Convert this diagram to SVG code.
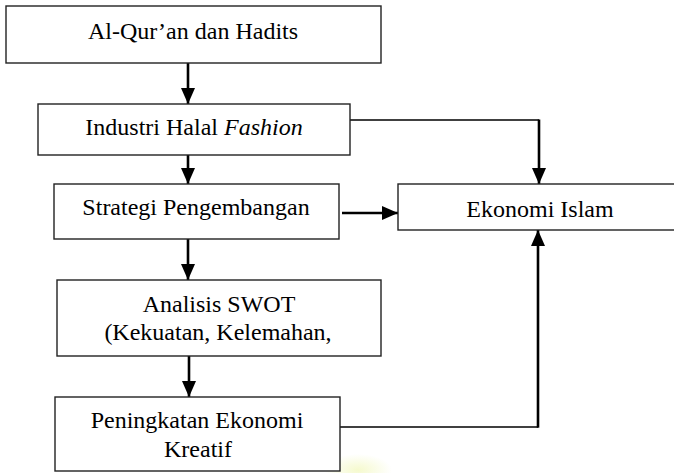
<svg xmlns="http://www.w3.org/2000/svg" width="674" height="473" viewBox="0 0 674 473">
<style>
.box{fill:#fff;stroke:#222;stroke-width:1.4}
.t{font-family:"Liberation Serif","Times New Roman","DejaVu Serif",serif;font-size:24px;fill:#000;text-anchor:middle}
.ln{fill:none;stroke:#000;stroke-width:2.6}
.thin{fill:none;stroke:#000;stroke-width:1.4}
.ah{fill:#000}
</style>
<defs>
<marker id="arr" viewBox="0 0 16 14" refX="16" refY="7" markerWidth="16" markerHeight="14" markerUnits="userSpaceOnUse" orient="auto">
<path d="M0,0 L16,7 L0,14 Z" class="ah"/>
</marker>
<radialGradient id="wm" cx="0.5" cy="0.5" r="0.5">
<stop offset="0" stop-color="#f4f9c8" stop-opacity="0.9"/>
<stop offset="1" stop-color="#f4f9c8" stop-opacity="0"/>
</radialGradient>
</defs>
<rect width="674" height="473" fill="#fff"/>
<ellipse cx="358" cy="470" rx="34" ry="16" fill="url(#wm)"/>
<g id="connectors">
<line class="ln" x1="188" y1="63" x2="188" y2="104" marker-end="url(#arr)"/>
<line class="ln" x1="188" y1="155" x2="188" y2="184" marker-end="url(#arr)"/>
<polyline class="thin" points="350,120 539,120"/>
<line class="ln" x1="539" y1="119.5" x2="539" y2="184" marker-end="url(#arr)"/>
<line class="ln" x1="342" y1="213" x2="398" y2="213" marker-end="url(#arr)"/>
<line class="ln" x1="188" y1="239" x2="188" y2="280" marker-end="url(#arr)"/>
<line class="ln" x1="189" y1="356" x2="189" y2="397" marker-end="url(#arr)"/>
<polyline class="thin" points="340,427 538,427"/>
<line class="ln" x1="538" y1="427.7" x2="538" y2="230" marker-end="url(#arr)"/>
</g>
<g id="n1"><rect class="box" x="6" y="6" width="375" height="57"/><text class="t" x="193" y="39">Al-Qur’an dan Hadits</text></g>
<g id="n2"><rect class="box" x="38" y="104" width="312" height="51"/><text class="t" x="194" y="135">Industri Halal <tspan font-style="italic">Fashion</tspan></text></g>
<g id="n3"><rect class="box" x="54" y="184" width="285" height="55"/><text class="t" x="196" y="215">Strategi Pengembangan</text></g>
<g id="n4"><rect class="box" x="398" y="184" width="290" height="46"/><text class="t" x="540" y="217">Ekonomi Islam</text></g>
<g id="n5"><rect class="box" x="57" y="280" width="324" height="76"/><text class="t" x="219" y="312">Analisis SWOT</text><text class="t" x="218" y="340">(Kekuatan, Kelemahan,</text></g>
<g id="n6"><rect class="box" x="55" y="397" width="285" height="74"/><text class="t" x="197" y="428">Peningkatan Ekonomi</text><text class="t" x="198" y="457">Kreatif</text></g>
</svg>
